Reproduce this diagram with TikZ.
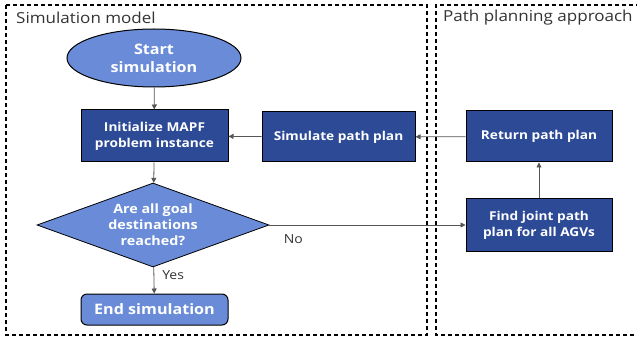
\documentclass[tikz,border=0pt]{standalone}
\usepackage{fontspec}
\setmainfont{Open Sans}
\newfontfamily\titlefont[FakeStretch=1.12]{Open Sans}
\newfontfamily\boxfont[FakeStretch=1.12]{Open Sans}
\usetikzlibrary{shapes.geometric,arrows.meta}
\definecolor{darkbox}{HTML}{2C4A96}
\definecolor{lightbox}{HTML}{6A8CD8}
\definecolor{linegray}{HTML}{555555}
\tikzset{
  boxtext/.style={text=white, font=\boxfont\bfseries\fontsize{12.2}{16}\selectfont, align=center, inner sep=0pt},
  bigtext/.style={font=\boxfont\bfseries\fontsize{14.4}{18}\selectfont},
  procbox/.style={boxtext, draw=black, line width=1pt, fill=darkbox},
  lightnode/.style={boxtext, draw=black, line width=1pt, fill=lightbox},
  region/.style={draw=black, dashed, dash pattern=on 4pt off 3pt, line width=1.2pt},
  title/.style={font=\titlefont\fontsize{15.2}{17}\selectfont, text=black!80, anchor=west, inner sep=0pt},
  conn/.style={draw=linegray, line width=0.8pt, -{Triangle[length=5pt,width=5pt]}},
  lbl/.style={font=\titlefont\fontsize{12.5}{14}\selectfont, text=black!80, inner sep=0pt}
}
\begin{document}
\begin{tikzpicture}[x=1pt,y=-1pt]
\useasboundingbox (0,0) rectangle (637,339);
% regions
\draw[region] (6,5) rectangle (427,335);
\draw[region] (640,5) -- (436,5) -- (436,335) -- (640,335);
\node[title] (t1) at (16,18) {Simulation model};
\node[title] (t2) at (443,18) {Path planning approach};
% nodes
\node[lightnode, bigtext, ellipse, minimum width=174pt, minimum height=58pt] (start) at (154,58) {Start\\simulation};
\node[procbox, minimum width=147pt, minimum height=52pt] (init) at (154.5,136) {Initialize MAPF\\problem instance};
\node[lightnode, diamond, shape aspect=2.76, minimum width=232pt, minimum height=84pt, line width=0.8pt, font=\boxfont\bfseries\fontsize{12.8}{16}\selectfont] (dec) at (153,225) {Are all goal\\destinations\\reached?};
\node[lightnode, bigtext, rounded corners=6pt, minimum width=147pt, minimum height=31pt] (end) at (154.5,309.5) {End simulation};
\node[procbox, minimum width=153pt, minimum height=50pt] (sim) at (338.5,137) {Simulate path plan};
\node[procbox, minimum width=146pt, minimum height=51pt] (ret) at (539,136.5) {Return path plan};
\node[procbox, minimum width=146pt, minimum height=52pt] (find) at (539,225) {Find joint path\\plan for all AGVs};
% connectors
\draw[conn] (start) -- (init);
\draw[conn] (init) -- (dec);
\draw[conn] (dec) -- node[lbl, anchor=west, xshift=8pt, pos=0.3] (yes) {Yes} (end);
\draw[conn] (dec) -- node[lbl, anchor=west, pos=0, xshift=14pt, yshift=-14pt] (no) {No} (find);
\draw[conn] (find) -- (ret);
\draw[conn] (ret) -- (sim);
\draw[conn] (sim) -- (init);
\end{tikzpicture}
\end{document}
